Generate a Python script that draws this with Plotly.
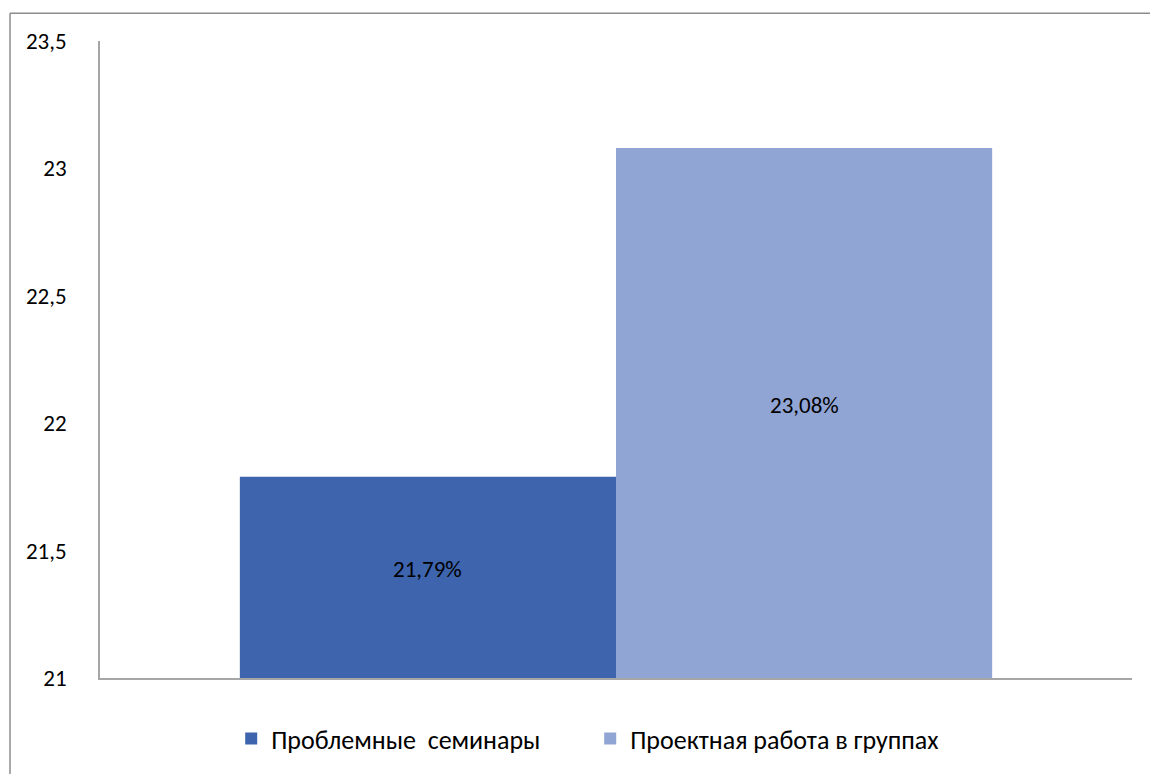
import plotly.graph_objects as go

# Values and labels
categories = [""]
series_names = ["Проблемные\u00a0 семинары", "Проектная работа в группах"]
series_values = [21.79, 23.08]
series_colors = ["#3D64AD", "#91A5D5"]
y_min, y_max = 21, 23.5

FONT = "Carlito, Lato, 'Noto Sans', sans-serif"
BARGAP = 0.271

fig = go.Figure()
for name, val, col in zip(series_names, series_values, series_colors):
    fig.add_trace(go.Bar(
        x=categories, y=[val], name=name,
        marker=dict(color=col, line=dict(width=0)),
        hoverinfo="name+y",
    ))

# value labels centred on the visible part of each bar
bar_w = (1 - BARGAP) / len(series_values)
annotations = []
for i, val in enumerate(series_values):
    xc = -(1 - BARGAP) / 2 + bar_w * (i + 0.5)
    annotations.append(dict(
        x=xc, y=(y_min + val) / 2, xref="x", yref="y", showarrow=False,
        text=f"{val:.2f}".replace(".", ",") + "%", yshift=8,
        font=dict(size=23, family=FONT, color="#000000"),
    ))

fig.update_layout(
    width=1150, height=774,
    margin=dict(l=100, r=18, t=41, b=90),
    paper_bgcolor="white", plot_bgcolor="white",
    separators=", ",
    barmode="group", bargap=BARGAP, bargroupgap=0,
    font=dict(family=FONT, size=23, color="#000000"),
    annotations=annotations,
    legend=dict(orientation="h", x=0.475, xanchor="center", y=-0.095, yanchor="middle",
                font=dict(size=26, family=FONT), entrywidth=314, traceorder="normal"),
    xaxis=dict(showticklabels=False, ticks="", showgrid=False, zeroline=False,
               showline=True, linecolor="#A6A6A6", linewidth=1.5, fixedrange=True,
               range=[-0.5, 0.5]),
    yaxis=dict(range=[y_min, y_max], dtick=0.5, tick0=21, showgrid=False, zeroline=False,
               showline=True, linecolor="#A6A6A6", linewidth=1.5, ticks="",
               ticklabelstandoff=27, tickfont=dict(size=23, family=FONT)),
    shapes=[
        dict(type="line", xref="paper", yref="paper", x0=-0.0872, x1=-0.0872, y0=1.0435, y1=-0.2,
             line=dict(color="#8C8C8C", width=1.5)),
        dict(type="line", xref="paper", yref="paper", x0=-0.0872, x1=1.05, y0=1.0435, y1=1.0435,
             line=dict(color="#8C8C8C", width=1.5)),
    ],
)

fig.write_html("out.html")
